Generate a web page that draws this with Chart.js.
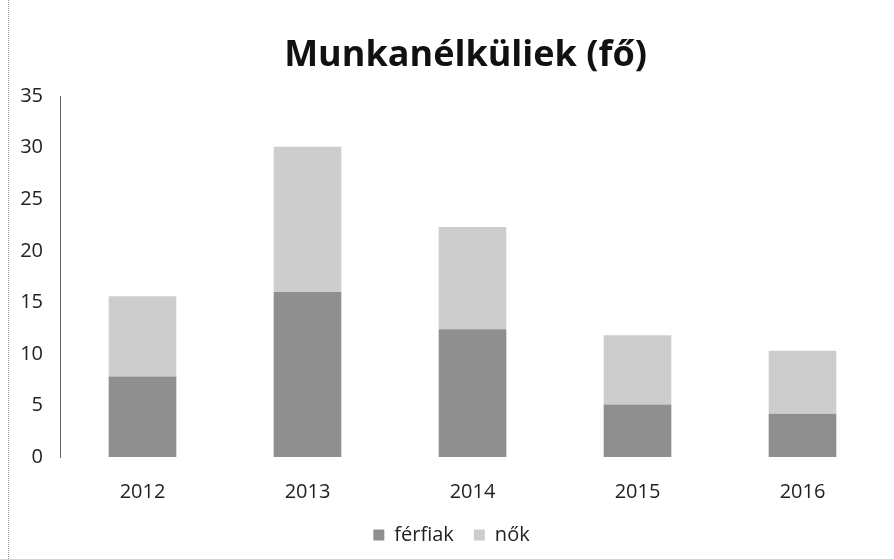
<!doctype html>
<html>

<head>
  <meta charset="utf-8">
  <script src="https://cdn.jsdelivr.net/npm/chart.js@4/dist/chart.umd.min.js"></script>
  <style>
    body { margin: 0; background: #fff; }
    #wrap { position: relative; width: 894px; height: 559px; }
    #frame { position: absolute; left: 8px; top: 0; height: 559px; border-left: 1px dotted #999; }
  </style>
</head>

<body>
  <div id="wrap">
    <div id="frame"></div>
    <canvas id="canvas" width="894" height="559"></canvas>
  </div>
  <script>
    const years = ['2012', '2013', '2014', '2015', '2016'];
    const ferfiak = [7.8, 16, 12.4, 5.1, 4.2];
    const nok = [7.8, 14.1, 9.9, 6.7, 6.1];

    const font = "'Open Sans', 'Lato', sans-serif";

    new Chart(document.getElementById('canvas').getContext('2d'), {
      type: 'bar',
      data: {
        labels: years,
        datasets: [{
          label: 'férfiak',
          data: ferfiak,
          backgroundColor: '#8f8f8f'
        }, {
          label: 'nők',
          data: nok,
          backgroundColor: '#cdcdcd'
        }]
      },
      options: {
        responsive: false,
        animation: false,
        datasets: { bar: { barPercentage: 0.41, categoryPercentage: 1 } },
        layout: { padding: { left: 18, right: 9, bottom: 4 } },
        plugins: {
          title: {
            display: true,
            text: '   Munkanélküliek (fő)',
            color: '#111',
            font: { family: font, size: 36, weight: 'bold' },
            padding: { top: 34, bottom: 19 }
          },
          legend: {
            position: 'bottom',
            labels: {
              color: '#222',
              font: { family: font, size: 20 },
              boxWidth: 11,
              boxHeight: 11,
              padding: 20
            }
          },
          tooltip: { enabled: false }
        },
        scales: {
          x: {
            stacked: true,
            grid: { display: false },
            border: { display: false },
            // keep the labels where they are but pull the legend up
            afterFit: (s) => { s.height = 48; },
            ticks: { color: '#222', font: { family: font, size: 20 }, padding: 15 }
          },
          y: {
            stacked: true,
            min: 0,
            max: 35,
            grid: { display: false },
            border: { display: true, color: '#666', dash: [1, 1] },
            afterFit: (s) => { s.width = 42; },
            ticks: { stepSize: 5, color: '#222', font: { family: font, size: 20 }, padding: 9 }
          }
        }
      }
    });
  </script>
</body>

</html>
